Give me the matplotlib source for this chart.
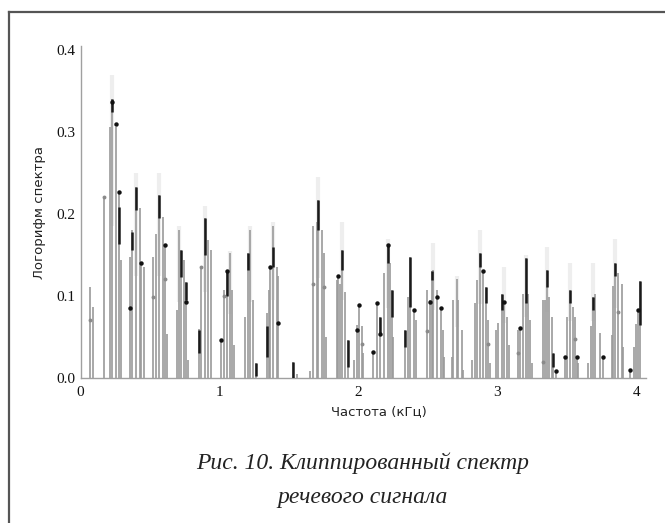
import numpy as np
import matplotlib.pyplot as plt
from matplotlib.lines import Line2D

# gray spectral stems: frequency (kHz) and clipped log-spectrum value
stem_x = [0.066, 0.090,
          0.169, 0.210, 0.229, 0.258, 0.275, 0.289,
          0.354, 0.373, 0.402, 0.426, 0.438, 0.454,
          0.522, 0.546, 0.565, 0.594, 0.606, 0.622,
          0.694, 0.709, 0.721, 0.745, 0.757, 0.773,
          0.850, 0.869, 0.893, 0.917, 0.936,
          1.013, 1.030, 1.054, 1.073, 1.090, 1.102,
          1.181, 1.205, 1.222, 1.241, 1.260,
          1.340, 1.355, 1.363, 1.387, 1.411, 1.418,
          1.531, 1.555,
          1.651, 1.675, 1.700, 1.711, 1.735, 1.752, 1.764,
          1.842, 1.855, 1.865, 1.884, 1.903, 1.927,
          1.970, 1.986, 2.006, 2.027, 2.035,
          2.106, 2.130, 2.155, 2.186, 2.210, 2.224, 2.239, 2.250,
          2.335, 2.354, 2.371, 2.402, 2.411,
          2.491, 2.515, 2.527, 2.538, 2.563, 2.591, 2.605, 2.618,
          2.670, 2.682, 2.706, 2.718, 2.742, 2.754,
          2.814, 2.838, 2.850, 2.874, 2.898, 2.917, 2.934, 2.946,
          2.990, 3.005, 3.030, 3.046, 3.070, 3.080,
          3.150, 3.162, 3.186, 3.203, 3.222, 3.234, 3.250,
          3.330, 3.342, 3.354, 3.372, 3.390, 3.402, 3.420,
          3.485, 3.497, 3.520, 3.540, 3.556, 3.570, 3.580,
          3.653, 3.670, 3.690, 3.700, 3.737, 3.761,
          3.821, 3.833, 3.845, 3.869, 3.893, 3.905,
          3.955, 3.980, 4.000, 4.012, 4.024]
stem_y = [0.111, 0.087,
          0.221, 0.306, 0.340, 0.306, 0.227, 0.144,
          0.148, 0.180, 0.233, 0.207, 0.140, 0.136,
          0.148, 0.176, 0.223, 0.197, 0.162, 0.054,
          0.083, 0.180, 0.156, 0.144, 0.117, 0.022,
          0.060, 0.136, 0.195, 0.168, 0.156,
          0.046, 0.107, 0.130, 0.152, 0.107, 0.040,
          0.075, 0.152, 0.180, 0.095, 0.018,
          0.079, 0.107, 0.134, 0.185, 0.136, 0.124,
          0.020, 0.005,
          0.008, 0.185, 0.190, 0.217, 0.180, 0.152, 0.050,
          0.120, 0.125, 0.115, 0.156, 0.105, 0.046,
          0.022, 0.065, 0.089, 0.063, 0.030,
          0.032, 0.091, 0.074, 0.128, 0.162, 0.140, 0.107, 0.050,
          0.058, 0.099, 0.148, 0.083, 0.071,
          0.107, 0.095, 0.131, 0.132, 0.107, 0.085, 0.059, 0.026,
          0.026, 0.095, 0.121, 0.095, 0.059, 0.010,
          0.022, 0.091, 0.119, 0.152, 0.130, 0.111, 0.071, 0.018,
          0.059, 0.067, 0.103, 0.093, 0.075, 0.040,
          0.059, 0.061, 0.103, 0.146, 0.103, 0.071, 0.018,
          0.095, 0.095, 0.132, 0.099, 0.075, 0.030, 0.008,
          0.026, 0.075, 0.107, 0.087, 0.075, 0.026, 0.018,
          0.018, 0.063, 0.099, 0.103, 0.055, 0.026,
          0.053, 0.112, 0.140, 0.128, 0.115, 0.038,
          0.010, 0.038, 0.066, 0.083, 0.118]

# dark short strokes (x, low, high)
seg_x = [0.229, 0.275, 0.373, 0.402, 0.565, 0.721, 0.757, 0.850, 0.893,
         1.054, 1.205, 1.260, 1.340, 1.387, 1.531, 1.711, 1.884, 1.927,
         2.155, 2.210, 2.239, 2.335, 2.371, 2.527, 2.874, 2.917, 3.030,
         3.203, 3.354, 3.402, 3.520, 3.690, 3.845, 4.024]
seg_lo = [0.325, 0.164, 0.156, 0.205, 0.195, 0.123, 0.095, 0.030, 0.150,
          0.100, 0.132, 0.002, 0.026, 0.135, 0.000, 0.180, 0.132, 0.014,
          0.054, 0.140, 0.075, 0.038, 0.087, 0.120, 0.136, 0.091, 0.083,
          0.091, 0.111, 0.014, 0.091, 0.083, 0.125, 0.065]
seg_hi = [0.340, 0.209, 0.178, 0.233, 0.223, 0.156, 0.117, 0.058, 0.195,
          0.130, 0.152, 0.018, 0.063, 0.160, 0.020, 0.217, 0.156, 0.046,
          0.074, 0.162, 0.107, 0.058, 0.148, 0.131, 0.152, 0.111, 0.103,
          0.146, 0.132, 0.030, 0.107, 0.099, 0.140, 0.118]

# dark dots
dot_x = [0.229, 0.258, 0.275, 0.354, 0.438, 0.606, 0.757, 1.013, 1.054,
         1.363, 1.418, 1.855, 1.986, 2.006, 2.106, 2.130, 2.155, 2.210,
         2.402, 2.515, 2.563, 2.591, 2.898, 3.046, 3.162, 3.420, 3.485,
         3.570, 3.761, 3.955, 4.012]
dot_y = [0.337, 0.310, 0.227, 0.085, 0.140, 0.162, 0.093, 0.046, 0.130,
         0.136, 0.067, 0.125, 0.058, 0.089, 0.032, 0.091, 0.054, 0.162,
         0.083, 0.093, 0.099, 0.085, 0.130, 0.093, 0.061, 0.008, 0.026,
         0.026, 0.026, 0.010, 0.083]

# gray dots
gdot_x = [0.066, 0.169, 0.522, 0.606, 0.869, 1.030, 1.675, 1.752, 2.027,
          2.491, 2.934, 3.150, 3.330, 3.556, 3.869]
gdot_y = [0.071, 0.221, 0.099, 0.121, 0.136, 0.100, 0.115, 0.111, 0.042,
          0.057, 0.042, 0.030, 0.020, 0.048, 0.080]

# faint scan halos above the peaks
halo_x = [0.229, 0.402, 0.565, 0.709, 0.893, 1.073, 1.222, 1.387, 1.711,
          1.884, 2.210, 2.538, 2.706, 2.874, 3.046, 3.203, 3.354, 3.520,
          3.690, 3.845]
halo_y = [0.370, 0.250, 0.250, 0.185, 0.210, 0.155, 0.185, 0.190, 0.245,
          0.190, 0.170, 0.165, 0.125, 0.180, 0.135, 0.150, 0.160, 0.140,
          0.140, 0.170]

xticks = [0, 1, 2, 3, 4]
yticks = [0.0, 0.1, 0.2, 0.3, 0.4]

fig = plt.figure(figsize=(6.65, 5.23), dpi=100)
W, H = 665, 523
ax = fig.add_axes([80.5 / W, (H - 378) / H, 565.7 / W, 332 / H])

ax.vlines(halo_x, np.array(halo_y) * 0.5, halo_y, color='#e4e4e4', lw=3, alpha=0.6, zorder=1)
ax.vlines(stem_x, 0, stem_y, color='#9a9a9a', lw=1.2, zorder=2)
ax.vlines(seg_x, seg_lo, seg_hi, color='#1a1a1a', lw=1.8, zorder=3)
ax.plot(gdot_x, gdot_y, 'o', color='#8a8a8a', ms=2.8, mew=0, zorder=3)
ax.plot(dot_x, dot_y, 'o', color='#111111', ms=3.2, mew=0, zorder=4)

ax.set_xlim(0, 4.07)
ax.set_ylim(0, 0.405)
ax.set_xticks(xticks)
ax.set_yticks(yticks)
ax.set_xticklabels([str(t) for t in xticks])
ax.set_yticklabels(['%.1f' % t for t in yticks])
for s in ['top', 'right']:
    ax.spines[s].set_visible(False)
for s in ['left', 'bottom']:
    ax.spines[s].set_color('#a0a0a0')
    ax.spines[s].set_linewidth(1.0)
ax.tick_params(length=0, labelsize=11, colors='#111111')
ax.tick_params(axis='x', pad=6)
ax.tick_params(axis='y', pad=4)
for lab in ax.get_xticklabels() + ax.get_yticklabels():
    lab.set_family('Liberation Serif')

fig.text(379 / W, 1 - 412 / H, 'Частота (кГц)', ha='center', va='center',
         fontsize=9.5, family='DejaVu Sans', color='#222222')
fig.text(40 / W, 1 - 213 / H, 'Логорифм спектра', ha='center', va='center',
         rotation=90, fontsize=9.5, family='DejaVu Sans', color='#222222')

fig.text(363 / W, 1 - 463 / H, 'Рис. 10. Клиппированный спектр', ha='center',
         va='center', fontsize=17, style='italic', family='Liberation Serif',
         color='#222222')
fig.text(363 / W, 1 - 497 / H, 'речевого сигнала', ha='center',
         va='center', fontsize=17, style='italic', family='Liberation Serif',
         color='#222222')

# open frame around the figure (top and left edges only)
fig.add_artist(Line2D([9 / W, 1], [1 - 12 / H, 1 - 12 / H], color='#555555', lw=1.6))
fig.add_artist(Line2D([9 / W, 9 / W], [0, 1 - 12 / H], color='#555555', lw=1.6))

fig.savefig('out.png', dpi=100)
